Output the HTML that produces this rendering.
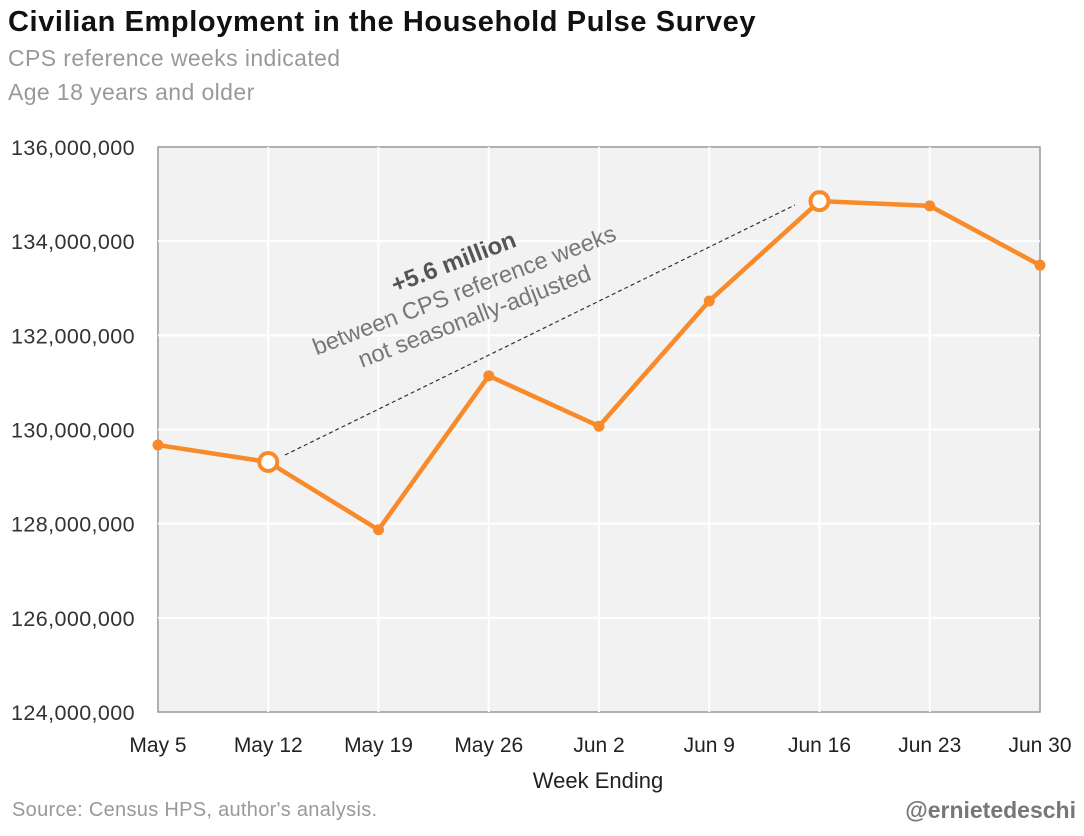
<!DOCTYPE html>
<html><head><meta charset="utf-8"><style>
body{margin:0;background:#fff;width:1084px;height:831px;overflow:hidden;font-family:"Liberation Sans","DejaVu Sans",sans-serif}
</style></head><body>
<svg id="chart" width="1084" height="831" xmlns="http://www.w3.org/2000/svg">
<text x="8" y="31" font-size="29" font-weight="bold" fill="#111" letter-spacing="0.6">Civilian Employment in the Household Pulse Survey</text>
<text x="8" y="66" font-size="23" fill="#999" letter-spacing="0.4">CPS reference weeks indicated</text>
<text x="8" y="100" font-size="23" fill="#999" letter-spacing="0.4">Age 18 years and older</text>
<rect x="158" y="147" width="882" height="565" fill="#f2f2f2" stroke="#999" stroke-width="1.5"/>
<g id="grid"></g><g id="ticks"></g>
<line x1="285" y1="455" x2="795" y2="205" stroke="#333" stroke-width="1.2" stroke-dasharray="4,3"/>
<g transform="translate(470,305) rotate(-21)" text-anchor="middle" fill="#777">
<text x="0" y="-38" font-size="24" font-weight="bold" fill="#555">+5.6 million</text>
<text x="0" y="-8" font-size="23.5">between CPS reference weeks</text>
<text x="0" y="20" font-size="23.5">not seasonally-adjusted</text>
</g>
<g id="series"></g>
<text x="598" y="788" font-size="22" text-anchor="middle" fill="#222">Week Ending</text>
<text x="12" y="816" font-size="20" fill="#999" letter-spacing="0.3">Source: Census HPS, author's analysis.</text>
<text x="1076" y="818" font-size="23" font-weight="bold" text-anchor="end" fill="#777">@ernietedeschi</text>
</svg>
<script>
const categories=["May 5","May 12","May 19","May 26","Jun 2","Jun 9","Jun 16","Jun 23","Jun 30"];
const employment=[129.67,129.31,127.87,131.14,130.07,132.73,134.85,134.75,133.49];
const referenceWeeks=[false,true,false,false,false,false,true,false,false];
const yTicks=[124,126,128,130,132,134,136];
const yTickLabels=["124,000,000","126,000,000","128,000,000","130,000,000","132,000,000","134,000,000","136,000,000"];
const NS="http://www.w3.org/2000/svg";
const L=158,R=1040,T=147,B=712;
const x=i=>L+i*(R-L)/(categories.length-1);
const y=v=>B-(v-124)/(136-124)*(B-T);
function mk(t,a,p){const e=document.createElementNS(NS,t);for(const k in a)e.setAttribute(k,a[k]);p.appendChild(e);return e;}
const g=document.getElementById('grid'),tk=document.getElementById('ticks'),s=document.getElementById('series');
yTicks.forEach((v,i)=>{
 if(v>124&&v<136){const l=mk('line',{x1:L,x2:R,y1:y(v),y2:y(v),stroke:'#fff','stroke-width':2},g);
 
 }
 const t=mk('text',{x:135,y:y(v)+8,'font-size':21.5,'text-anchor':'end',fill:'#333','letter-spacing':0.4},tk);t.textContent=yTickLabels[i];
 
 
});
categories.forEach((c,i)=>{
 if(i>0&&i<categories.length-1){const l=mk('line',{x1:x(i),x2:x(i),y1:T,y2:B,stroke:'#fff','stroke-width':2},g);
 
 }
 const t=mk('text',{x:x(i),y:752,'font-size':21,'text-anchor':'middle',fill:'#222'},tk);t.textContent=c;
 
 
});
const pl=mk('polyline',{points:employment.map((v,i)=>x(i)+','+y(v)).join(' '),fill:'none',stroke:'#f98a2a','stroke-width':4.5,'stroke-linejoin':'round'},s);


employment.forEach((v,i)=>{
 const c=referenceWeeks[i]?mk('circle',{cx:x(i),cy:y(v),r:9,fill:'#fff',stroke:'#f98a2a','stroke-width':4},s):mk('circle',{cx:x(i),cy:y(v),r:5.5,fill:'#f98a2a'},s);
 
 
});
</script>
</body></html>
